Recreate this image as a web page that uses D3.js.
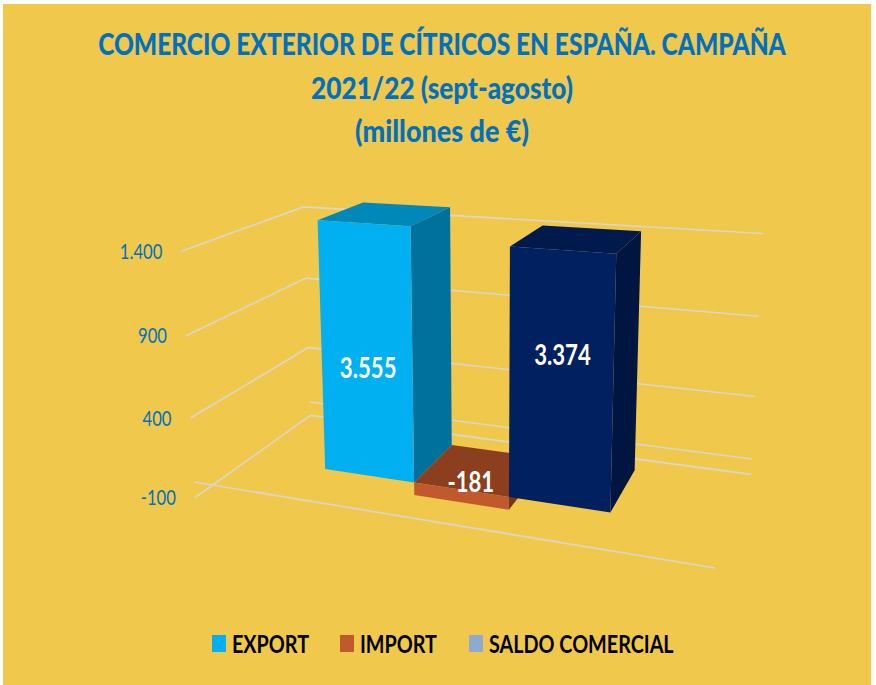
<!DOCTYPE html>
<html>
<head>
<meta charset="utf-8">
<script src="https://cdn.jsdelivr.net/npm/d3@7"></script>
<style>
  html, body { margin: 0; padding: 0; background: #ffffff; }
  svg { display: block; }
</style>
</head>
<body>
<div id="chart"></div>
<script>
// ---- data ----
const categories = ["EXPORT", "IMPORT", "SALDO COMERCIAL"];
const values = [3555, -181, 3374];
const yTicks = [1400, 900, 400, -100];
const titleLines = [
  "COMERCIO EXTERIOR DE CÍTRICOS EN ESPAÑA. CAMPAÑA",
  "2021/22 (sept-agosto)",
  "(millones de €)"
];

// colours: front / top / side of each bar, and the legend swatches
const frontColors = ["#00B0F0", "#C0592B", "#002060"];
const topColors = ["#0088B9", "#8C3F1E", "#001A4E"];
const sideColors = ["#00719D", "#7A3519", "#00153F"];
const legendColors = ["#00B0F0", "#C0592B", "#8DAAD0"];

const width = 876, height = 685;
const blue = "#0070C0";
const font = "Lato, 'Open Sans', sans-serif";

// es-ES number format: 3.555 and -181
const es = d3.formatLocale({ decimal: ",", thousands: ".", grouping: [3], currency: ["", " €"], minus: "-" });
const fmt = es.format(",d");

const svg = d3.select("#chart").append("svg")
  .attr("width", width)
  .attr("height", height);

svg.append("rect")
  .attr("x", 3).attr("y", 4)
  .attr("width", width - 8).attr("height", height - 4)
  .attr("fill", "#F0C84C");

// ---- 3D box: corners of the floor (value 0) and of the top gridline ----
const box = {
  fl: [194, 482], fr: [715, 568], br: [752, 459], bl: [310, 402],
  flTop: [182, 250], blTop: [303, 204], brTop: [763, 238]
};

// homography of the unit square (X right, Z back) onto the floor
function squareToQuad(p0, p1, p2, p3) {
  const [x0, y0] = p0, [x1, y1] = p1, [x2, y2] = p2, [x3, y3] = p3;
  const dx1 = x1 - x2, dx2 = x3 - x2, dx3 = x0 - x1 + x2 - x3;
  const dy1 = y1 - y2, dy2 = y3 - y2, dy3 = y0 - y1 + y2 - y3;
  const den = dx1 * dy2 - dx2 * dy1;
  const g = (dx3 * dy2 - dx2 * dy3) / den;
  const h = (dx1 * dy3 - dx3 * dy1) / den;
  return [
    [x1 - x0 + g * x1, x3 - x0 + h * x3, x0],
    [y1 - y0 + g * y1, y3 - y0 + h * y3, y0],
    [g, h, 1]
  ];
}
const H = squareToQuad(box.fl, box.fr, box.br, box.bl);

// vertical column of the projection, least squares on the top corners
const q = (function () {
  const ref = [[0, 0, box.flTop], [0, 1, box.blTop], [1, 1, box.brTop]];
  let A = [], b = [];
  ref.forEach(function (r) {
    const X = r[0], Z = r[1], u = r[2][0], v = r[2][1];
    const s = H.map(function (row) { return row[0] * X + row[1] * Z + row[2]; });
    A.push([1, 0, -u]); b.push(u * s[2] - s[0]);
    A.push([0, 1, -v]); b.push(v * s[2] - s[1]);
  });
  const M = [[0, 0, 0], [0, 0, 0], [0, 0, 0]], rhs = [0, 0, 0];
  for (let k = 0; k < A.length; k++) {
    for (let i = 0; i < 3; i++) {
      rhs[i] += A[k][i] * b[k];
      for (let j = 0; j < 3; j++) M[i][j] += A[k][i] * A[k][j];
    }
  }
  // gaussian elimination
  for (let i = 0; i < 3; i++) {
    for (let r = i + 1; r < 3; r++) {
      const f = M[r][i] / M[i][i];
      for (let c = i; c < 3; c++) M[r][c] -= f * M[i][c];
      rhs[r] -= f * rhs[i];
    }
  }
  const out = [0, 0, 0];
  for (let i = 2; i >= 0; i--) {
    let s = rhs[i];
    for (let c = i + 1; c < 3; c++) s -= M[i][c] * out[c];
    out[i] = s / M[i][i];
  }
  return out;
})();

function project(X, Y, Z) {
  const w = H[2][0] * X + H[2][1] * Z + H[2][2] + q[2] * Y;
  return [
    (H[0][0] * X + H[0][1] * Z + H[0][2] + q[0] * Y) / w,
    (H[1][0] * X + H[1][1] * Z + H[1][2] + q[1] * Y) / w
  ];
}

// ---- scales ----
const yScale = d3.scaleLinear().domain([0, 1400]).range([0, 1]);      // gridlines / axis
const barScale = d3.scaleLinear().domain([0, 3555]).range([0, 1.095]); // bar heights
const xScale = d3.scaleBand().domain(categories).range([0.02, 0.985]).paddingInner(0).paddingOuter(1);
const zFront = 0.30, zBack = 0.72;

const line = d3.line();
const poly = function (pts) { return line(pts.map(function (p) { return project(p[0], p[1], p[2]); })) + "Z"; };

// ---- gridlines (left wall + back wall) ----
const grid = svg.append("g")
  .attr("fill", "none")
  .attr("stroke", "#DAD7CE")
  .attr("stroke-width", 1.6);

grid.selectAll("path.tick")
  .data(yTicks)
  .enter()
  .append("path")
  .attr("class", "tick")
  .attr("d", function (d) {
    const y = yScale(d);
    return line([project(0, y, 0), project(0, y, 1), project(1, y, 1)]);
  });

// floor back edge and category axis line at 0
grid.append("path").attr("d", line([project(0, 0, 1), project(1, 0, 1)]));
grid.append("path").attr("d", line([project(0, 0, 0), project(1, 0, 0)]));

// ---- text helper: the original lettering is horizontally condensed ----
let squeeze = 0.75;
function condense(sel, k) {
  sel.each(function () {
    const t = d3.select(this);
    const x = +t.attr("x") || 0, y = +t.attr("y") || 0;
    const kk = typeof k === "function" ? k.call(this) : (k || squeeze);
    t.attr("x", 0).attr("y", 0)
      .attr("transform", "translate(" + x + "," + y + ") scale(" + kk + ",1)");
  });
}

// ---- title ----
const titleBase = [55, 99, 142];
const titleWidths = [688, 262, 174];
svg.selectAll("text.title")
  .data(titleLines)
  .enter()
  .append("text")
  .attr("class", "title")
  .attr("x", 442)
  .attr("y", function (d, i) { return titleBase[i]; })
  .attr("text-anchor", "middle")
  .attr("font-family", font)
  .attr("font-weight", 900)
  .attr("font-size", 31)
  .attr("fill", blue)
  .text(function (d) { return d; })
  .each(function (d, i) {
    const k = titleWidths[i] / this.getComputedTextLength();
    if (i === 0) squeeze = k;
    d3.select(this).call(condense, k);
  });

// ---- y axis labels ----
svg.selectAll("text.ylab")
  .data(yTicks)
  .enter()
  .append("text")
  .attr("class", "ylab")
  .attr("x", function (d) { return project(0, yScale(d), 0)[0] - 19; })
  .attr("y", function (d) { return project(0, yScale(d), 0)[1]; })
  .attr("dy", "0.36em")
  .attr("text-anchor", "end")
  .attr("font-family", font)
  .attr("font-size", 21)
  .attr("fill", blue)
  .text(function (d) { return fmt(d); })
  .call(condense);

// ---- bars ----
const bars = svg.append("g");
values.forEach(function (v, i) {
  const x0 = xScale(categories[i]), x1 = x0 + xScale.bandwidth();
  const yT = barScale(Math.max(v, 0)), yB = barScale(Math.min(v, 0));
  const g = bars.append("g");
  g.append("path")
    .attr("d", poly([[x0, yT, zFront], [x1, yT, zFront], [x1, yT, zBack], [x0, yT, zBack]]))
    .attr("fill", topColors[i]);
  g.append("path")
    .attr("d", poly([[x1, yB, zFront], [x1, yT, zFront], [x1, yT, zBack], [x1, yB, zBack]]))
    .attr("fill", sideColors[i]);
  g.append("path")
    .attr("d", poly([[x0, yB, zFront], [x1, yB, zFront], [x1, yT, zFront], [x0, yT, zFront]]))
    .attr("fill", frontColors[i]);
});

// ---- bar labels (hand-placed in the original, hence the nudges) ----
const labelNudge = [[2, 16], [10, -8], [2, -25]];
svg.selectAll("text.vlab")
  .data(values)
  .enter()
  .append("text")
  .attr("class", "vlab")
  .attr("x", function (d, i) {
    const xc = xScale(categories[i]) + xScale.bandwidth() / 2;
    return project(xc, d > 0 ? barScale(d) / 2 : 0, zFront)[0] + labelNudge[i][0];
  })
  .attr("y", function (d, i) {
    const xc = xScale(categories[i]) + xScale.bandwidth() / 2;
    return project(xc, d > 0 ? barScale(d) / 2 : 0, zFront)[1] + labelNudge[i][1];
  })
  .attr("dy", "0.36em")
  .attr("text-anchor", "middle")
  .attr("font-family", font)
  .attr("font-weight", 700)
  .attr("font-size", 28)
  .attr("fill", "#ffffff")
  .text(function (d) { return fmt(d); })
  .call(condense);

// ---- legend ----
const legendX = [212, 340, 469];
const legend = svg.selectAll("g.legend")
  .data(categories)
  .enter()
  .append("g")
  .attr("class", "legend")
  .attr("transform", function (d, i) { return "translate(" + legendX[i] + ",635)"; });

legend.append("rect")
  .attr("width", 14)
  .attr("height", 17)
  .attr("fill", function (d, i) { return legendColors[i]; });

legend.append("text")
  .attr("x", 20)
  .attr("y", 18)
  .attr("font-family", font)
  .attr("font-weight", 700)
  .attr("font-size", 25)
  .attr("fill", "#000000")
  .text(function (d) { return d; })
  .call(condense);
</script>
</body>
</html>
